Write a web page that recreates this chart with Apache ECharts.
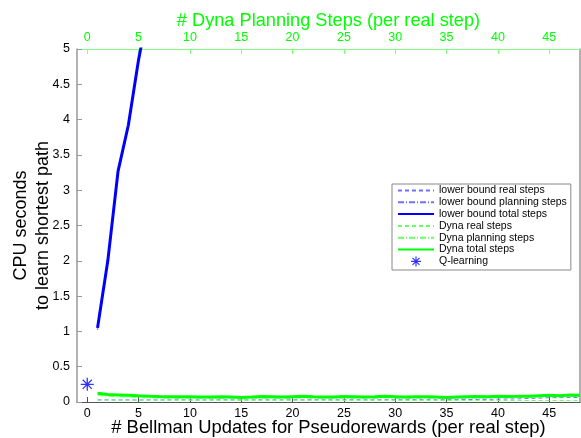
<!DOCTYPE html>
<html>
<head>
<meta charset="utf-8">
<script src="https://cdn.jsdelivr.net/npm/echarts@6/dist/echarts.min.js"></script>
<style>
  html, body { margin: 0; padding: 0; background: #ffffff; }
  #chart { width: 581px; height: 438px; }
</style>
</head>
<body>
<div id="chart"></div>
<script>
// Bellman updates per real step (shared by both x axes)
const steps = [1, 2, 3, 4, 5, 6, 7, 8, 9, 10, 11, 12, 13, 14, 15, 16, 17, 18, 19, 20,
  21, 22, 23, 24, 25, 26, 27, 28, 29, 30, 31, 32, 33, 34, 35, 36, 37, 38, 39, 40,
  41, 42, 43, 44, 45, 46, 47, 48];
const xTicks = [0, 5, 10, 15, 20, 25, 30, 35, 40, 45];

// Lower bound: only the first few settings stay inside the CPU-seconds range
const lbSteps = [1, 2, 3, 4, 5, 6];
const lbTotal = [1.05, 2.0, 3.27, 3.92, 4.85, 5.6];
const lbPlanning = [1.02, 1.97, 3.24, 3.89, 4.82, 5.57];
const lbReal = [0.03, 0.03, 0.029, 0.03, 0.028, 0.03, 0.029, 0.03, 0.031, 0.03,
  0.029, 0.03, 0.031, 0.03, 0.029, 0.03, 0.031, 0.03, 0.03, 0.031,
  0.03, 0.031, 0.032, 0.03, 0.031, 0.032, 0.031, 0.03, 0.032, 0.031,
  0.032, 0.033, 0.032, 0.031, 0.033, 0.034, 0.035, 0.036, 0.038, 0.04,
  0.042, 0.045, 0.05, 0.055, 0.06, 0.062, 0.064, 0.065];

// Dyna
const dynaReal = [0.028, 0.027, 0.027, 0.026, 0.026, 0.025, 0.025, 0.026, 0.025, 0.025,
  0.024, 0.025, 0.025, 0.024, 0.024, 0.025, 0.024, 0.024, 0.025, 0.024,
  0.024, 0.023, 0.024, 0.024, 0.023, 0.024, 0.023, 0.023, 0.024, 0.023,
  0.023, 0.022, 0.023, 0.022, 0.022, 0.023, 0.022, 0.022, 0.021, 0.022,
  0.021, 0.021, 0.022, 0.021, 0.02, 0.021, 0.02, 0.02];
const dynaPlanning = [0.095, 0.078, 0.072, 0.068, 0.062, 0.057, 0.053, 0.05, 0.049, 0.051,
  0.048, 0.046, 0.05, 0.048, 0.041, 0.045, 0.052, 0.05, 0.046, 0.05,
  0.055, 0.05, 0.046, 0.048, 0.054, 0.052, 0.046, 0.05, 0.056, 0.052,
  0.048, 0.052, 0.052, 0.05, 0.043, 0.049, 0.054, 0.056, 0.055, 0.06,
  0.057, 0.059, 0.061, 0.069, 0.075, 0.069, 0.08, 0.075];
const dynaTotal = [0.125, 0.105, 0.1, 0.095, 0.088, 0.082, 0.078, 0.075, 0.074, 0.076,
  0.072, 0.07, 0.075, 0.072, 0.065, 0.07, 0.077, 0.074, 0.07, 0.075,
  0.08, 0.074, 0.07, 0.072, 0.078, 0.076, 0.07, 0.074, 0.08, 0.076,
  0.072, 0.075, 0.075, 0.072, 0.065, 0.072, 0.076, 0.078, 0.076, 0.082,
  0.078, 0.08, 0.083, 0.09, 0.095, 0.09, 0.1, 0.095];

// Q-learning baseline (no planning)
const qStep = [0];
const qValue = [0.25];

const pairs = (xs, ys) => xs.map((x, i) => [x, ys[i]]);

const FONT = 'Liberation Sans, Arial, Helvetica, sans-serif';
const BLUE = '#0000ff';
const LIGHT_BLUE = '#7070ff';
const GREEN = '#00ff00';
const LIGHT_GREEN = '#66ff66';
const ASTERISK = 'path://M0 5 L10 5 M5 0 L5 10 M1.5 1.5 L8.5 8.5 M8.5 1.5 L1.5 8.5';

const chart = echarts.init(document.getElementById('chart'), null, { renderer: 'canvas' });

const lineSeries = (name, xs, ys, color, width, type, z) => ({
  name, type: 'line', data: pairs(xs, ys), symbol: 'none', clip: true, z,
  lineStyle: { color, width, type }, itemStyle: { color }
});

// legend entries for lines show only the line sample, no marker
const lineEntry = (name) => ({
  name, itemStyle: { color: 'transparent', borderColor: 'transparent', borderWidth: 0, opacity: 0 }
});

chart.setOption({
  animation: false,
  backgroundColor: '#ffffff',
  textStyle: { fontFamily: FONT },
  grid: { left: 77, right: 1, top: 49, bottom: 36, containLabel: false, outerBoundsMode: 'none' },
  xAxis: [
    {
      type: 'value', position: 'bottom', min: -1, max: 48,
      name: '# Bellman Updates for Pseudorewards (per real step)',
      nameLocation: 'middle', nameGap: 17, nameMoveOverlap: false,
      nameTextStyle: { fontSize: 18.4, color: '#000', fontFamily: FONT },
      axisLine: { onZero: false, lineStyle: { color: '#555', width: 1 } },
      axisTick: { inside: true, length: 5, customValues: xTicks, lineStyle: { color: '#555' } },
      axisLabel: { customValues: xTicks, fontSize: 12.5, color: '#000', margin: 5, fontFamily: FONT },
      splitLine: { show: false }
    },
    {
      type: 'value', position: 'top', min: -1, max: 48,
      name: '# Dyna Planning Steps (per real step)',
      nameLocation: 'middle', nameGap: 19, nameMoveOverlap: false,
      nameTextStyle: { fontSize: 18.2, color: GREEN, fontFamily: FONT },
      axisLine: { onZero: false, lineStyle: { color: '#80ff80', width: 1 } },
      axisTick: { inside: true, length: 5, customValues: xTicks, lineStyle: { color: '#80ff80' } },
      axisLabel: { customValues: xTicks, fontSize: 12.5, color: GREEN, margin: 5, fontFamily: FONT },
      splitLine: { show: false }
    }
  ],
  yAxis: [
    {
      type: 'value', position: 'left', min: 0, max: 5, interval: 0.5,
      name: 'CPU seconds\nto learn shortest path',
      nameLocation: 'middle', nameGap: 23, nameRotate: 90, nameMoveOverlap: false,
      nameTextStyle: { fontSize: 18, color: '#000', lineHeight: 22, fontFamily: FONT },
      axisLine: { onZero: false, lineStyle: { color: '#999', width: 1.5 } },
      axisTick: { inside: true, length: 5, lineStyle: { color: '#999' } },
      axisLabel: { fontSize: 12.5, color: '#000', margin: 7, fontFamily: FONT },
      splitLine: { show: false }
    },
    {
      type: 'value', position: 'right', min: 0, max: 5,
      axisLine: { show: true, onZero: false, lineStyle: { color: '#999', width: 1.5 } },
      axisTick: { show: false }, axisLabel: { show: false }, splitLine: { show: false }
    }
  ],
  legend: {
    orient: 'vertical', left: 392, top: 184,
    backgroundColor: '#ffffff', borderColor: '#888', borderWidth: 1,
    padding: [1, 4, 3, 5],
    itemWidth: 36, itemHeight: 10, itemGap: 0.8,
    textStyle: { fontSize: 10.5, color: '#000', lineHeight: 10, fontFamily: FONT },
    data: [
      lineEntry('lower bound real steps'),
      lineEntry('lower bound planning steps'),
      lineEntry('lower bound total steps'),
      lineEntry('Dyna real steps'),
      lineEntry('Dyna planning steps'),
      lineEntry('Dyna total steps'),
      { name: 'Q-learning', itemStyle: { color: 'transparent', borderColor: BLUE, borderWidth: 1.2 } }
    ]
  },
  series: [
    lineSeries('lower bound real steps', steps, lbReal, LIGHT_BLUE, 1, [4, 3], 2),
    lineSeries('lower bound planning steps', lbSteps, lbPlanning, LIGHT_BLUE, 1, [6, 2, 1, 2], 2),
    lineSeries('lower bound total steps', lbSteps, lbTotal, BLUE, 3, 'solid', 3),
    lineSeries('Dyna real steps', steps, dynaReal, LIGHT_GREEN, 1, [4, 3], 2),
    lineSeries('Dyna planning steps', steps, dynaPlanning, LIGHT_GREEN, 0.8, [6, 2, 1, 2], 2),
    lineSeries('Dyna total steps', steps, dynaTotal, GREEN, 3, 'solid', 3),
    {
      name: 'Q-learning', type: 'scatter', data: pairs(qStep, qValue),
      symbol: ASTERISK, symbolSize: 13, z: 4,
      itemStyle: { color: 'none', borderColor: BLUE, borderWidth: 1.3 }
    }
  ]
});
</script>
</body>
</html>
